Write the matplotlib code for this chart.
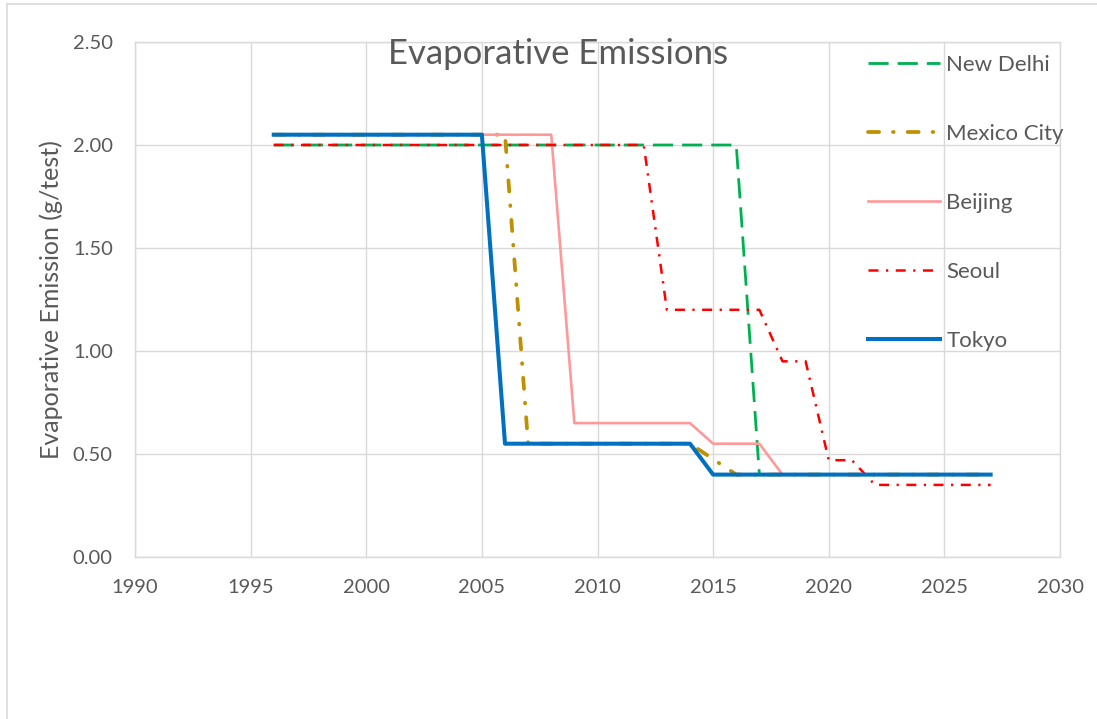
import matplotlib
matplotlib.use('Agg')
import matplotlib.pyplot as plt
from matplotlib.lines import Line2D

plt.rcParams['font.family'] = ['Lato', 'DejaVu Sans']
plt.rcParams['lines.scale_dashes'] = False

# evaporative emission limits by city (g/test)
delhi_years = [1996, 2016, 2017]
delhi_vals = [2.00, 2.00, 0.40]

mexico_years = [1996, 2006, 2007, 2014, 2016, 2027]
mexico_vals = [2.05, 2.05, 0.55, 0.55, 0.40, 0.40]

beijing_years = [1996, 2008, 2009, 2014, 2015, 2017, 2018]
beijing_vals = [2.05, 2.05, 0.65, 0.65, 0.55, 0.55, 0.40]

seoul_years = [1996, 2012, 2013, 2017, 2018, 2019, 2020, 2021, 2022, 2027]
seoul_vals = [2.00, 2.00, 1.20, 1.20, 0.95, 0.95, 0.47, 0.47, 0.35, 0.35]

tokyo_years = [1996, 2005, 2006, 2014, 2015, 2027]
tokyo_vals = [2.05, 2.05, 0.55, 0.55, 0.40, 0.40]

TXT = '#595959'
GRID = '#D9D9D9'

fig = plt.figure(figsize=(10.97, 7.19), dpi=100)
ax = fig.add_axes([135 / 1097, 1 - 557 / 719, 925 / 1097, 515 / 719])

ax.plot(delhi_years, delhi_vals, color='#00B050', lw=2.0,
        dashes=(14.5, 6.5), dash_capstyle='butt', label='New Delhi')
ax.plot(mexico_years, mexico_vals, color='#BF9000', lw=2.7,
        dashes=(8, 10, 0.5, 10), dash_capstyle='round', label='Mexico City')
ax.plot(beijing_years, beijing_vals, color='#FF9999', lw=1.9, label='Beijing')
ax.plot(seoul_years, seoul_vals, color='#FF0000', lw=1.8,
        dashes=(7.2, 5.4, 1.6, 5.4), dash_capstyle='butt', label='Seoul')
ax.plot(tokyo_years, tokyo_vals, color='#0070C0', lw=2.9, label='Tokyo')

ax.set_xlim(1990, 2030)
ax.set_ylim(0, 2.5)
ax.set_xticks(range(1990, 2031, 5))
ax.set_yticks([0, 0.5, 1.0, 1.5, 2.0, 2.5])
ax.set_yticklabels([f'{v:.2f}' for v in ax.get_yticks()])
ax.grid(True, color=GRID, lw=1.0)
ax.set_axisbelow(True)
for s in ax.spines.values():
    s.set_color(GRID)
    s.set_linewidth(1.0)
ax.tick_params(length=0, labelsize=14.5, colors=TXT)
ax.tick_params(axis='x', pad=16)
ax.tick_params(axis='y', pad=16)
ax.set_ylabel('Evaporative Emission (g/test)', fontsize=18, color=TXT, labelpad=7)

fig.text(558 / 1097, 1 - 54 / 719, 'Evaporative Emissions', fontsize=25,
         color=TXT, ha='center', va='center')

leg = ax.legend(loc='upper left', bbox_to_anchor=(868 / 1097, 1 - 55 / 719),
                bbox_transform=fig.transFigure, frameon=False, fontsize=16,
                handlelength=3.25, handletextpad=0.27, labelspacing=2.2,
                borderpad=0, borderaxespad=0)
for t in leg.get_texts():
    t.set_color(TXT)

# outer chart frame (left and top edges)
fig.add_artist(Line2D([7 / 1097, 7 / 1097], [0, 1 - 4 / 719],
                      transform=fig.transFigure, color=GRID, lw=1.2))
fig.add_artist(Line2D([7 / 1097, 1], [1 - 4 / 719, 1 - 4 / 719],
                      transform=fig.transFigure, color=GRID, lw=1.2))

fig.savefig('out.png', dpi=100)
